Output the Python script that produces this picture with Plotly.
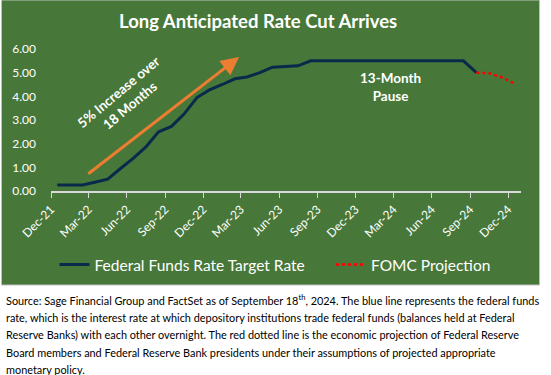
import plotly.graph_objects as go

# ---------------- data ----------------
fed_dates = [
    "2021-12-16", "2022-01-16", "2022-02-15", "2022-03-16", "2022-04-16", "2022-05-16",
    "2022-06-16", "2022-07-16", "2022-08-16", "2022-09-16", "2022-10-16", "2022-11-16",
    "2022-12-16", "2023-01-16", "2023-02-15", "2023-03-16", "2023-04-16", "2023-05-16",
    "2023-06-16", "2023-07-16", "2023-08-16", "2023-09-16", "2023-10-16", "2023-11-16",
    "2023-12-16", "2024-01-16", "2024-02-15", "2024-03-16", "2024-04-16", "2024-05-16",
    "2024-06-16", "2024-07-16", "2024-08-16", "2024-09-16",
]
fed_rate = [
    0.25, 0.25, 0.25, 0.37, 0.50, 0.94,
    1.38, 1.85, 2.50, 2.73, 3.25, 3.95,
    4.27, 4.50, 4.74, 4.82, 5.00, 5.23,
    5.25, 5.29, 5.50, 5.50, 5.50, 5.50,
    5.50, 5.50, 5.50, 5.50, 5.50, 5.50,
    5.50, 5.50, 5.50, 5.00,
]
proj_dates = ["2024-09-16", "2024-10-16", "2024-11-16", "2024-12-16"]
proj_rate = [5.00, 4.98, 4.80, 4.55]

x_tick_vals = ["2021-12-01", "2022-03-01", "2022-06-01", "2022-09-01", "2022-12-01",
               "2023-03-01", "2023-06-01", "2023-09-01", "2023-12-01", "2024-03-01",
               "2024-06-01", "2024-09-01", "2024-12-01"]
x_tick_text = ["Dec-21", "Mar-22", "Jun-22", "Sep-22", "Dec-22", "Mar-23", "Jun-23",
               "Sep-23", "Dec-23", "Mar-24", "Jun-24", "Sep-24", "Dec-24"]
y_tick_vals = [0, 1, 2, 3, 4, 5, 6]
y_tick_text = ["0.00", "1.00", "2.00", "3.00", "4.00", "5.00", "6.00"]

title_text = "Long Anticipated Rate Cut Arrives"
source_lines = [
    "Source: Sage Financial Group and FactSet as of September 18<sup>th</sup>, 2024. The blue line represents the federal funds",
    "rate, which is the interest rate at which depository institutions trade federal funds (balances held at Federal",
    "Reserve Banks) with each other overnight. The red dotted line is the economic projection of Federal Reserve",
    "Board members and Federal Reserve Bank presidents under their assumptions of projected appropriate",
    "monetary policy.",
]

# ---------------- layout geometry ----------------
W, H = 551, 375
L, R, T, B = 51, 30, 49, 184
PW, PH = W - L - R, H - T - B


def px_x(p):
    return (p - L) / PW


def px_y(p):
    return (H - B - p) / PH


GREEN = "#477839"
NAVY = "#0A2A4C"
WHITE = "#FFFFFF"
FONT = "Lato, Open Sans, Arial, sans-serif"

fig = go.Figure()
fig.add_trace(go.Scatter(
    x=fed_dates, y=fed_rate, mode="lines", name="Federal Funds Rate Target Rate",
    line=dict(color=NAVY, width=3), legend="legend",
))
fig.add_trace(go.Scatter(
    x=proj_dates, y=proj_rate, mode="lines", name="FOMC Projection",
    line=dict(color="#FF0000", width=2.5, dash="dot"), legend="legend2",
))

shapes = [dict(
    type="rect", xref="paper", yref="paper", layer="below",
    x0=px_x(1.5), x1=px_x(539.5), y0=px_y(0), y1=px_y(285),
    fillcolor=GREEN, line=dict(color="#BFBFBF", width=1),
)]

annotations = [
    dict(text="<b>%s</b>" % title_text, xref="paper", yref="paper",
         x=px_x(258), y=px_y(21), xanchor="center", yanchor="middle",
         showarrow=False, font=dict(family=FONT, size=18.5, color=WHITE)),
    dict(text="<b>5% Increase over<br>18 Months</b>", xref="x", yref="y",
         x="2022-05-25", y=3.90, textangle=-40, showarrow=False,
         font=dict(family=FONT, size=13.5, color=WHITE)),
    dict(text="<b>13-Month<br>Pause</b>", xref="x", yref="y",
         x="2024-02-22", y=4.40, showarrow=False,
         font=dict(family=FONT, size=13.5, color=WHITE)),
    dict(text="", xref="x", yref="y", axref="x", ayref="y",
         x="2023-02-25", y=5.66, ax="2022-02-25", ay=0.68,
         showarrow=True, arrowhead=2, arrowsize=1.2, arrowwidth=3,
         arrowcolor="#ED7D31", standoff=0, startstandoff=0),
]
line_y = [299, 317, 334.5, 352, 369]
for txt, yy in zip(source_lines, line_y):
    annotations.append(dict(
        text=txt, xref="paper", yref="paper", x=px_x(4), y=px_y(yy),
        xanchor="left", yanchor="middle", showarrow=False, align="left",
        font=dict(family=FONT, size=10.9, color="#000000")))

legend_common = dict(orientation="h", xanchor="left", yanchor="middle",
                     font=dict(family=FONT, size=15.5, color=WHITE),
                     bgcolor="rgba(0,0,0,0)", itemwidth=30)

fig.update_layout(
    width=W, height=H,
    margin=dict(l=L, r=R, t=T, b=B, pad=0),
    paper_bgcolor="white", plot_bgcolor="rgba(0,0,0,0)",
    shapes=shapes, annotations=annotations,
    showlegend=True,
    legend=dict(x=px_x(54.5), y=px_y(265), **legend_common),
    legend2=dict(x=px_x(331), y=px_y(265), **legend_common),
    xaxis=dict(type="date", range=["2021-12-01", "2025-01-01"],
               tickmode="array", tickvals=x_tick_vals, ticktext=x_tick_text,
               tickangle=-45, ticks="outside", ticklen=5, tickcolor="#D9D9D9",
               showline=True, linecolor="#D9D9D9", linewidth=1.5,
               showgrid=False, zeroline=False,
               tickfont=dict(family=FONT, size=12, color=WHITE)),
    yaxis=dict(range=[0, 6], tickmode="array", tickvals=y_tick_vals, ticktext=y_tick_text,
               showgrid=False, zeroline=False, showline=False, ticks="",
               ticklabelstandoff=14,
               tickfont=dict(family=FONT, size=12, color=WHITE)),
)

fig.write_html("out.html", config={"displayModeBar": False},
               post_script="document.body.style.margin='0';")
